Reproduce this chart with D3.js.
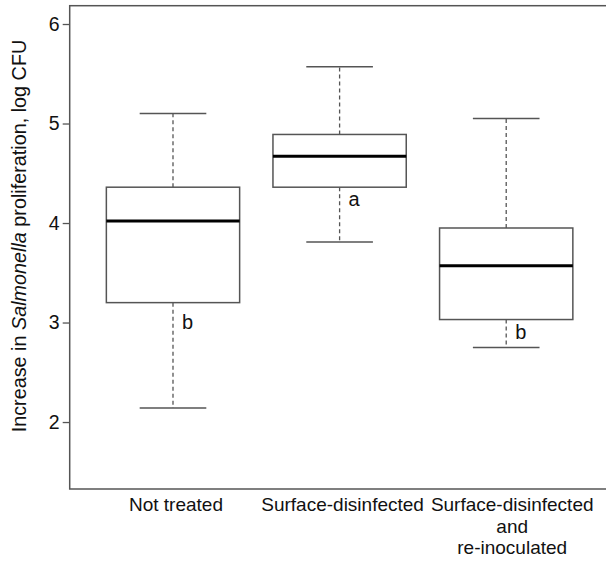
<!DOCTYPE html>
<html><head><meta charset="utf-8">
<script src="https://cdn.jsdelivr.net/npm/d3@7"></script>
<style>
body{margin:0;background:#fff;}
text{font-family:"Liberation Sans",Arial,Helvetica,sans-serif;fill:#111;}
</style></head>
<body><svg id="c" width="606" height="563"></svg>
<script>
const categories = ["Not treated", "Surface-disinfected", "Surface-disinfected\nand\nre-inoculated"];
const whiskerLow  = [2.14, 3.81, 2.75];
const q1          = [3.20, 4.36, 3.03];
const median      = [4.02, 4.67, 3.57];
const q3          = [4.36, 4.89, 3.95];
const whiskerHigh = [5.10, 5.57, 5.05];
const letters     = ["b", "a", "b"];
const letterY     = [2.93, 4.17, 2.83];
const yTicks      = [2, 3, 4, 5, 6];
const yLabelParts = ["Increase in ", "Salmonella", " proliferation, log CFU"];

const svg = d3.select("#c");
const x = d3.scaleLinear().domain([0.38, 3.62]).range([69.7, 609.5]);
const y = d3.scaleLinear().domain([1.327, 6.184]).range([489, 5.7]);
const step = x(2) - x(1);
const boxW = step * 0.8, capW = boxW * 0.5;
const lineCol = "#555";
const labelShift = [3, 3, 6];

const L = x(0.38), R = x(3.62), T = y(6.184), B = y(1.327);
svg.append("rect").attr("x", L).attr("y", T).attr("width", R - L).attr("height", B - T)
  .attr("fill", "none").attr("stroke", lineCol).attr("stroke-width", 1.5);

const yAxis = d3.axisLeft(y).tickValues(yTicks).tickSize(7).tickPadding(3).tickFormat(d3.format("d"));
const ga = svg.append("g").attr("transform", `translate(${L},0)`).call(yAxis);
ga.select(".domain").remove();
ga.selectAll(".tick line").attr("stroke", lineCol).attr("stroke-width", 1.3);
ga.selectAll(".tick text").attr("font-size", 19.5).style("font-family", '"Liberation Sans",Arial,sans-serif').attr("fill", "#111");

const yl = svg.append("text").attr("transform", `translate(26,236) rotate(-90)`)
  .attr("text-anchor", "middle").attr("font-size", 19.8);
yLabelParts.forEach((p, i) => {
  yl.append("tspan").text(p).attr("font-style", i === 1 ? "italic" : "normal");
});

categories.forEach((c, i) => {
  const cx = x(i + 1);
  const g = svg.append("g");
  g.append("line").attr("x1", cx).attr("x2", cx).attr("y1", y(q3[i])).attr("y2", y(whiskerHigh[i]))
    .attr("stroke", lineCol).attr("stroke-width", 1.3).attr("stroke-dasharray", "4,3");
  g.append("line").attr("x1", cx).attr("x2", cx).attr("y1", y(q1[i])).attr("y2", y(whiskerLow[i]))
    .attr("stroke", lineCol).attr("stroke-width", 1.3).attr("stroke-dasharray", "4,3");
  [whiskerHigh[i], whiskerLow[i]].forEach(v => {
    g.append("line").attr("x1", cx - capW / 2).attr("x2", cx + capW / 2).attr("y1", y(v)).attr("y2", y(v))
      .attr("stroke", lineCol).attr("stroke-width", 1.5);
  });
  g.append("rect").attr("x", cx - boxW / 2).attr("width", boxW)
    .attr("y", y(q3[i])).attr("height", y(q1[i]) - y(q3[i]))
    .attr("fill", "#fff").attr("stroke", lineCol).attr("stroke-width", 1.5);
  g.append("line").attr("x1", cx - boxW / 2).attr("x2", cx + boxW / 2).attr("y1", y(median[i])).attr("y2", y(median[i]))
    .attr("stroke", "#000").attr("stroke-width", 3);
  g.append("text").attr("x", cx + 9).attr("y", y(letterY[i])).attr("font-size", 20).text(letters[i]);

  const lines = c.split("\n");
  const t = svg.append("text").attr("text-anchor", "middle").attr("font-size", 19);
  lines.forEach((ln, j) => {
    t.append("tspan").attr("x", cx + labelShift[i]).attr("y", 511 + j * 21.5).text(ln);
  });
});
</script></body></html>
